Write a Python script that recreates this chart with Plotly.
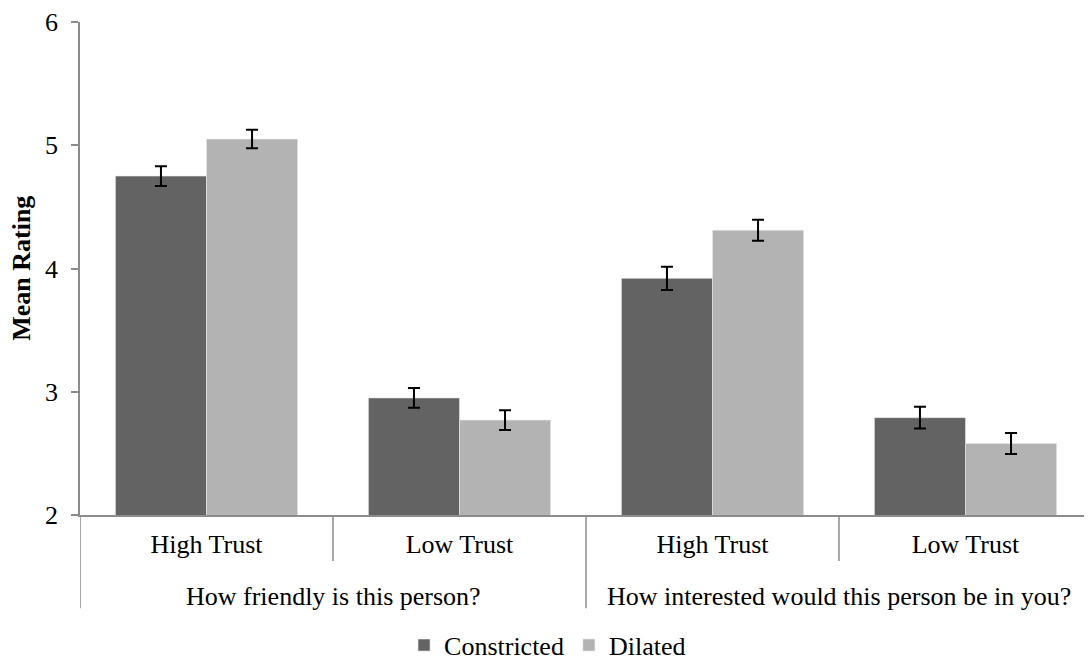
import plotly.graph_objects as go

questions = ["How friendly is this person?", "How friendly is this person?",
             "How interested would this person be in you?", "How interested would this person be in you?"]
trust = ["High Trust", "Low Trust", "High Trust", "Low Trust"]
constricted = [4.75, 2.95, 3.92, 2.79]
constricted_err = [0.08, 0.08, 0.095, 0.088]
dilated = [5.05, 2.77, 4.31, 2.58]
dilated_err = [0.075, 0.08, 0.085, 0.085]

FONT = "Liberation Serif"
FS = 26
AXIS_GRAY = "#8c8c8c"

xpos = list(range(len(trust)))

fig = go.Figure()
fig.add_trace(go.Bar(
    x=xpos, y=constricted, name="Constricted",
    marker=dict(color="#636363", line=dict(color="#e8e8e8", width=0.6)),
    error_y=dict(type="data", array=constricted_err, color="black", thickness=2, width=6),
))
fig.add_trace(go.Bar(
    x=xpos, y=dilated, name="Dilated",
    marker=dict(color="#b3b3b3", line=dict(color="#e8e8e8", width=0.6)),
    error_y=dict(type="data", array=dilated_err, color="black", thickness=2, width=6),
))

# group structure derived from the category lists
groups = []
for i, q in enumerate(questions):
    if not groups or groups[-1][0] != q:
        groups.append([q, i, i])
    else:
        groups[-1][2] = i

shapes = []
annotations = []
SHORT = -0.0935
LONG = -0.189
outer_bounds = set()
for q, a, b in groups:
    outer_bounds.add(a - 0.5)
    outer_bounds.add(b + 0.5)
    annotations.append(dict(text=q, x=(a + b) / 2, xref="x", y=-0.165, yref="paper",
                            showarrow=False, yanchor="middle",
                            font=dict(size=FS, family=FONT, color="black")))
for xb in sorted(outer_bounds):
    shapes.append(dict(type="line", xref="x", yref="paper", x0=xb, x1=xb, y0=0, y1=LONG,
                       line=dict(color=AXIS_GRAY, width=1.5)))
for i in range(len(trust) - 1):
    xb = i + 0.5
    if xb not in outer_bounds:
        shapes.append(dict(type="line", xref="x", yref="paper", x0=xb, x1=xb, y0=0, y1=SHORT,
                           line=dict(color=AXIS_GRAY, width=1.5)))

annotations.append(dict(text="<b>Mean Rating</b>", x=-0.058, xref="paper", y=0.5, yref="paper",
                        textangle=-90, showarrow=False, xanchor="center", yanchor="middle",
                        font=dict(size=FS, family=FONT, color="black")))

fig.update_layout(
    width=1084, height=653,
    margin=dict(l=72, r=0, t=14, b=146, autoexpand=False),
    plot_bgcolor="white", paper_bgcolor="white",
    barmode="group", bargap=0.28, bargroupgap=0,
    font=dict(family=FONT, color="black"),
    legend=dict(orientation="h", x=0.462, xanchor="center", y=-0.264, yanchor="middle",
                font=dict(size=FS, family=FONT), itemwidth=30, traceorder="normal"),
    showlegend=True,
    shapes=shapes,
    annotations=annotations,
)
fig.update_yaxes(
    range=[2, 6], dtick=1, showgrid=False, zeroline=False, automargin=False,
    showline=True, linecolor=AXIS_GRAY, linewidth=1.5,
    ticks="outside", ticklen=7, tickcolor=AXIS_GRAY, tickwidth=1.5,
    ticklabelstandoff=8,
    tickfont=dict(size=FS, family=FONT),
)
fig.update_xaxes(
    range=[-0.5, len(trust) - 0.5], showgrid=False, zeroline=False, automargin=False,
    showline=True, linecolor=AXIS_GRAY, linewidth=1.5,
    tickmode="array", tickvals=xpos, ticktext=trust, ticks="",
    ticklabelstandoff=5,
    tickfont=dict(size=FS, family=FONT),
)
fig.write_html("out.html")
